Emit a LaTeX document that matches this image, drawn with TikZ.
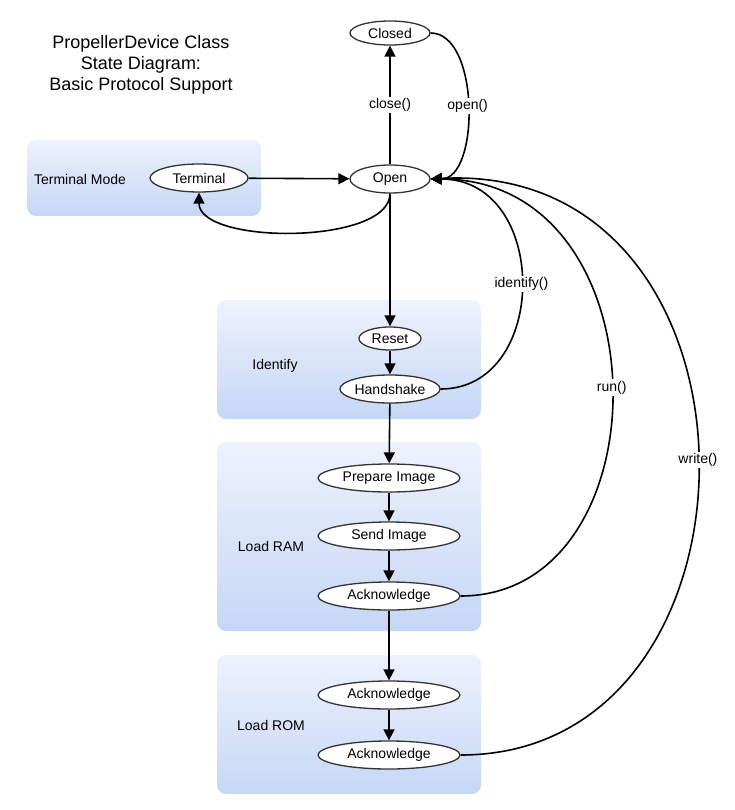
\documentclass[tikz,border=0pt]{standalone}
\usepackage{fontspec}
\setmainfont{Liberation Sans}
\usetikzlibrary{arrows.meta,shapes.geometric}
\definecolor{grptop}{HTML}{EEF2FC}
\definecolor{grpbot}{HTML}{C5D7F6}
\definecolor{rim}{HTML}{333333}

\begin{document}
\begin{tikzpicture}[x=1pt, y=-1pt,
  state/.style={draw=rim, line width=1.3pt, ellipse, fill=white, inner sep=0pt,
                minimum height=28pt, font=\fontsize{14}{16}\selectfont},
  grp/.style={rounded corners=9pt, top color=grptop, bottom color=grpbot, inner sep=0pt},
  grplbl/.style={font=\fontsize{14}{16}\selectfont},
  arr/.style={-{Triangle[length=11pt, width=11pt]}, line width=1.6pt},
  lbl/.style={fill=white, inner sep=1.5pt, font=\fontsize{14}{16}\selectfont},
]
\useasboundingbox (0,0) rectangle (735,810);

% --- Title ---
\node[font=\fontsize{18}{21}\selectfont, align=center] (title) at (141,65)
  {PropellerDevice Class\\State Diagram:\\Basic Protocol Support};

% --- Groups ---
\node[grp, minimum width=234pt, minimum height=76pt] (tgrp) at (144,178) {};
\node[grplbl] (tlbl) at (80,179) {Terminal Mode};
\node[grp, minimum width=264pt, minimum height=119pt] (igrp) at (349,359.5) {};
\node[grplbl] (ilbl) at (275,366) {Identify};
\node[grp, minimum width=264pt, minimum height=189pt] (rgrp) at (349,536.5) {};
\node[grplbl] (rlbl) at (271,546) {Load RAM};
\node[grp, minimum width=264pt, minimum height=139pt] (ogrp) at (349,724.5) {};
\node[grplbl] (olbl) at (271,725) {Load ROM};

% --- States ---
\node[state, minimum width=80pt, minimum height=24pt] (closed) at (390,33) {Closed};
\node[state, minimum width=80pt] (open) at (390,179) {Open};
\node[state, minimum width=98pt] (term) at (199,178) {Terminal};
\node[state, minimum width=62pt, minimum height=23pt] (reset) at (390,338.5) {Reset};
\node[state, minimum width=98pt] (hand) at (390,389) {Handshake};
\node[state, minimum width=142pt] (prep) at (389,478) {Prepare Image};
\node[state, minimum width=142pt] (send) at (389,536) {Send Image};
\node[state, minimum width=142pt] (rack) at (389,596) {Acknowledge};
\node[state, minimum width=142pt] (oack1) at (389,695) {Acknowledge};
\node[state, minimum width=142pt] (oack2) at (389,755) {Acknowledge};

% --- Transitions ---
\draw[arr] (open) -- node[lbl] {close()} (closed);
\draw[arr] (closed.east) .. controls (480,33) and (480,179) .. node[lbl] {open()} (open.east);
\draw[arr] (term) -- (open);
\draw[arr] (open.south) .. controls (390,245) and (199,245) .. (term.south);
\draw[arr] (open) -- (reset);
\draw[arr] (reset) -- (hand);
\draw[arr] (hand) -- (prep);
\draw[arr] (prep) -- (send);
\draw[arr] (send) -- (rack);
\draw[arr] (rack) -- (oack1);
\draw[arr] (oack1) -- (oack2);
\draw[arr] (hand.east) .. controls (550,389) and (550,179) .. node[lbl] {identify()} (open.east);
\draw[arr] (rack.east) .. controls (667,596) and (667,179) .. node[lbl] {run()} (open.east);
\draw[arr] (oack2.east) .. controls (782,755) and (782,160) .. node[lbl] {write()} (open.east);
\end{tikzpicture}
\end{document}
